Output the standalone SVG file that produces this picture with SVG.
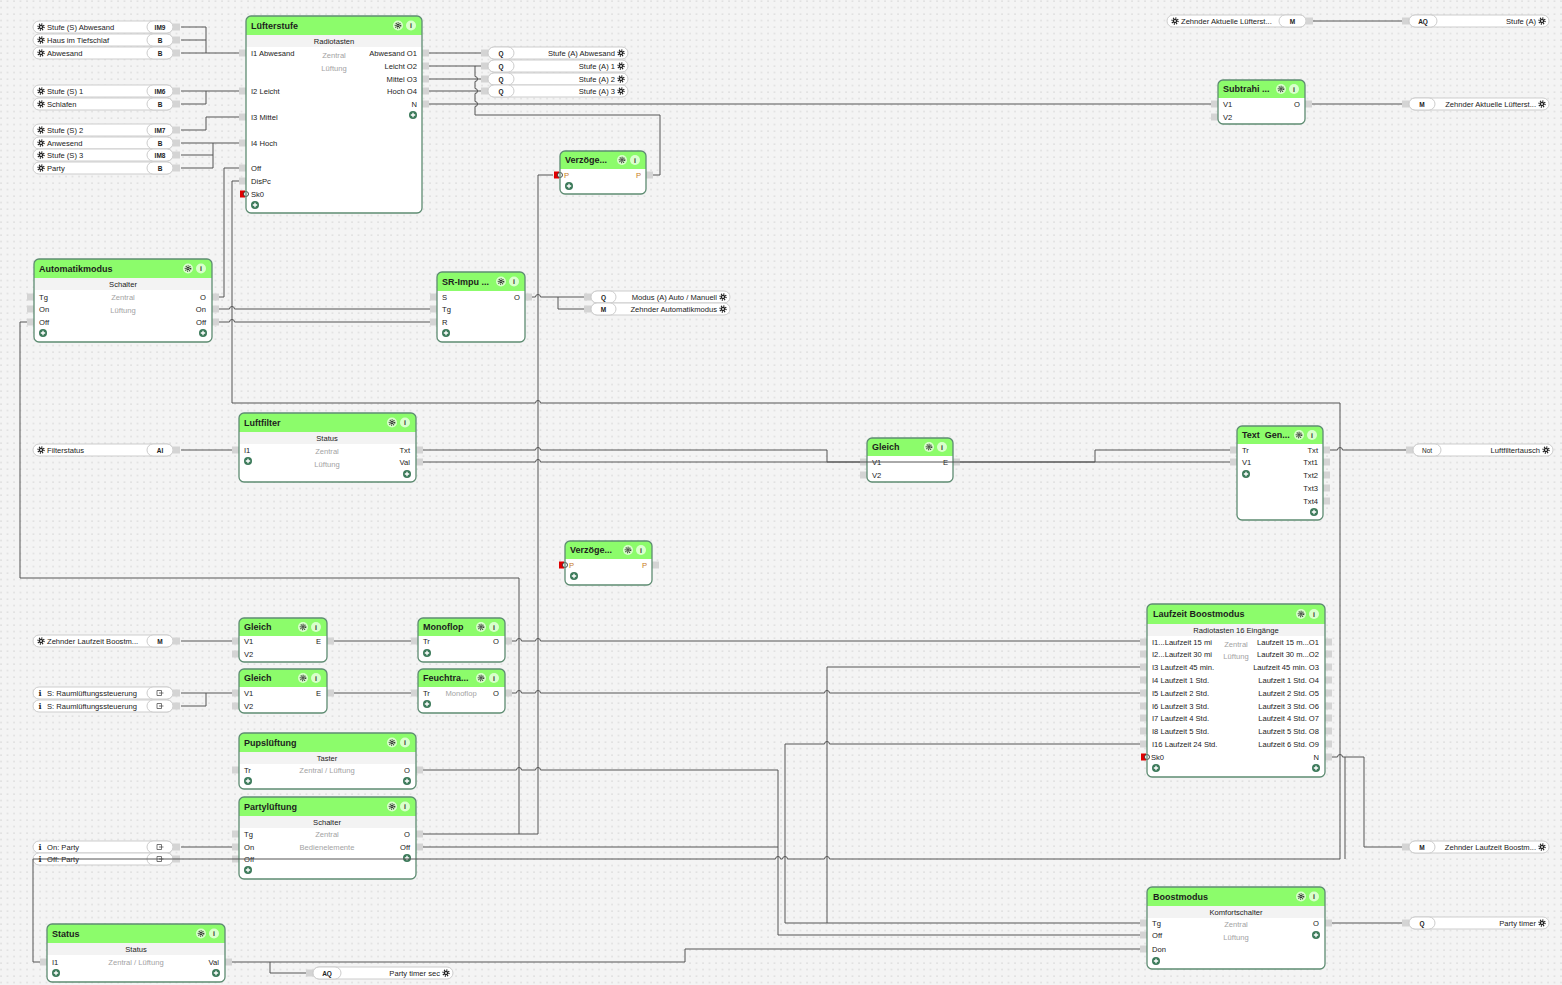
<svg xmlns="http://www.w3.org/2000/svg" width="1562" height="985" viewBox="0 0 1562 985">
<style>
.bg{fill:#fff}
.ol{fill:none;stroke:#5e8c72;stroke-width:1.3}
.hd{fill:#8cfc6b}
.sb{fill:#f3f3f3}
.st{fill:#d4d4d4}
.pl{fill:#fff;stroke:#cdcdcd;stroke-width:1}
.w{fill:none;stroke:#555;stroke-width:1}
text{font-family:"Liberation Sans",Arial,sans-serif;font-size:7.6px;fill:#222}
.h{font-size:9px;font-weight:bold;fill:#1d1d1d}
.r{text-anchor:end}
.c{text-anchor:middle}
.g{fill:#a3a3a3}
.ty{font-size:6.5px;font-weight:bold;text-anchor:middle}
.ic{font-size:7px;font-weight:bold;text-anchor:middle;fill:#333}
.o{fill:#c77a1c}
.inf{font-family:"DejaVu Serif",serif;font-weight:bold;font-size:8px;text-anchor:middle}
</style>
<defs>
<pattern id="dots" width="6.5" height="6.5" patternUnits="userSpaceOnUse"><circle cx="1" cy="1" r="0.6" fill="#b9b9b9"/></pattern>
<rect id="s" class="st" x="-7" y="-3.5" width="7" height="7"/>
<g id="ig"><circle r="5" fill="#d9ffcc"/><circle r="2.7" fill="none" stroke="#333" stroke-width="1.3" stroke-dasharray="1 1"/><circle r="1.7" fill="#333"/><circle r="0.6" fill="#d9ffcc"/></g>
<g id="ii"><circle r="5" fill="#d9ffcc"/><text y="2.6" class="ic">i</text></g>
<g id="pl"><circle r="4" fill="#3c7a5a"/><path d="M-2.2,0H2.2M0,-2.2V2.2" stroke="#fff" stroke-width="1.3"/></g>
<g id="gr"><circle r="3" fill="none" stroke="#222" stroke-width="1.4" stroke-dasharray="1.1 1.25"/><circle r="2.3" fill="#222"/><circle r="0.9" fill="#fff"/></g>
<g id="sk"><rect x="-6" y="-3.5" width="5" height="7" fill="#e00000"/><circle r="2.5" fill="#fff" stroke="#222" stroke-width="0.8"/></g>
<path id="gl" d="M-3,-2.5H1.5V2.5H-3Z M-1,0H3.5" fill="none" stroke="#555" stroke-width="0.8"/>
</defs>
<rect width="1562" height="985" fill="#f4f4f4"/>
<rect width="1562" height="985" fill="url(#dots)"/>

<!-- input pills (left type) -->
<g id="in-stufe-s-abwesand" transform="translate(33,21)"><rect class="pl" width="140" height="12" rx="6"/><rect class="pl" x="114" width="26" height="12" rx="6"/><use href="#gr" x="8" y="6"/><text x="14" y="8.7">Stufe (S) Abwesand</text><text class="ty" x="127" y="8.5">IM9</text><use href="#s" x="147" y="6"/></g>
<g id="in-haus-tiefschlaf" transform="translate(33,34)"><rect class="pl" width="140" height="12" rx="6"/><rect class="pl" x="114" width="26" height="12" rx="6"/><use href="#gr" x="8" y="6"/><text x="14" y="8.7">Haus im Tiefschlaf</text><text class="ty" x="127" y="8.5">B</text><use href="#s" x="147" y="6"/></g>
<g id="in-abwesand" transform="translate(33,47)"><rect class="pl" width="140" height="12" rx="6"/><rect class="pl" x="114" width="26" height="12" rx="6"/><use href="#gr" x="8" y="6"/><text x="14" y="8.7">Abwesand</text><text class="ty" x="127" y="8.5">B</text><use href="#s" x="147" y="6"/></g>
<g id="in-stufe-s-1" transform="translate(33,85)"><rect class="pl" width="140" height="12" rx="6"/><rect class="pl" x="114" width="26" height="12" rx="6"/><use href="#gr" x="8" y="6"/><text x="14" y="8.7">Stufe (S) 1</text><text class="ty" x="127" y="8.5">IM6</text><use href="#s" x="147" y="6"/></g>
<g id="in-schlafen" transform="translate(33,98)"><rect class="pl" width="140" height="12" rx="6"/><rect class="pl" x="114" width="26" height="12" rx="6"/><use href="#gr" x="8" y="6"/><text x="14" y="8.7">Schlafen</text><text class="ty" x="127" y="8.5">B</text><use href="#s" x="147" y="6"/></g>
<g id="in-stufe-s-2" transform="translate(33,124)"><rect class="pl" width="140" height="12" rx="6"/><rect class="pl" x="114" width="26" height="12" rx="6"/><use href="#gr" x="8" y="6"/><text x="14" y="8.7">Stufe (S) 2</text><text class="ty" x="127" y="8.5">IM7</text><use href="#s" x="147" y="6"/></g>
<g id="in-anwesend" transform="translate(33,137)"><rect class="pl" width="140" height="12" rx="6"/><rect class="pl" x="114" width="26" height="12" rx="6"/><use href="#gr" x="8" y="6"/><text x="14" y="8.7">Anwesend</text><text class="ty" x="127" y="8.5">B</text><use href="#s" x="147" y="6"/></g>
<g id="in-stufe-s-3" transform="translate(33,149)"><rect class="pl" width="140" height="12" rx="6"/><rect class="pl" x="114" width="26" height="12" rx="6"/><use href="#gr" x="8" y="6"/><text x="14" y="8.7">Stufe (S) 3</text><text class="ty" x="127" y="8.5">IM8</text><use href="#s" x="147" y="6"/></g>
<g id="in-party" transform="translate(33,162)"><rect class="pl" width="140" height="12" rx="6"/><rect class="pl" x="114" width="26" height="12" rx="6"/><use href="#gr" x="8" y="6"/><text x="14" y="8.7">Party</text><text class="ty" x="127" y="8.5">B</text><use href="#s" x="147" y="6"/></g>
<g id="in-filterstatus" transform="translate(33,444)"><rect class="pl" width="140" height="12" rx="6"/><rect class="pl" x="114" width="26" height="12" rx="6"/><use href="#gr" x="8" y="6"/><text x="14" y="8.7">Filterstatus</text><text class="ty" x="127" y="8.5">AI</text><use href="#s" x="147" y="6"/></g>
<g id="in-zehnder-laufzeit" transform="translate(33,635)"><rect class="pl" width="140" height="12" rx="6"/><rect class="pl" x="114" width="26" height="12" rx="6"/><use href="#gr" x="8" y="6"/><text x="14" y="8.7">Zehnder Laufzeit Boostm...</text><text class="ty" x="127" y="8.5">M</text><use href="#s" x="147" y="6"/></g>
<g id="in-raum-1" transform="translate(33,687)"><rect class="pl" width="140" height="12" rx="6"/><rect class="pl" x="114" width="26" height="12" rx="6"/><text class="inf" x="7" y="9">i</text><text x="14" y="8.7">S: Raumlüftungssteuerung</text><use href="#gl" x="127" y="6"/><use href="#s" x="147" y="6"/></g>
<g id="in-raum-2" transform="translate(33,700)"><rect class="pl" width="140" height="12" rx="6"/><rect class="pl" x="114" width="26" height="12" rx="6"/><text class="inf" x="7" y="9">i</text><text x="14" y="8.7">S: Raumlüftungssteuerung</text><use href="#gl" x="127" y="6"/><use href="#s" x="147" y="6"/></g>
<g id="in-on-party" transform="translate(33,841)"><rect class="pl" width="140" height="12" rx="6"/><rect class="pl" x="114" width="26" height="12" rx="6"/><text class="inf" x="7" y="9">i</text><text x="14" y="8.7">On: Party</text><use href="#gl" x="127" y="6"/><use href="#s" x="147" y="6"/></g>
<g id="in-off-party" transform="translate(33,853)"><rect class="pl" width="140" height="12" rx="6"/><rect class="pl" x="114" width="26" height="12" rx="6"/><text class="inf" x="7" y="9">i</text><text x="14" y="8.7">Off: Party</text><use href="#gl" x="127" y="6"/><use href="#s" x="147" y="6"/></g>
<g id="in-zehnder-aktuelle" transform="translate(1167,15)"><rect class="pl" width="139" height="12" rx="6"/><rect class="pl" x="112" width="27" height="12" rx="6"/><use href="#gr" x="8" y="6"/><text x="14" y="8.7">Zehnder Aktuelle Lüfterst...</text><text class="ty" x="125.5" y="8.5">M</text><use href="#s" x="146" y="6"/></g>

<!-- output pills (right type) -->
<g id="out-stufe-a-abwesand" transform="translate(488,47)"><use href="#s" x="0" y="6"/><rect class="pl" width="140" height="12" rx="6"/><rect class="pl" width="26" height="12" rx="6"/><text class="ty" x="13" y="8.5">Q</text><text class="r" x="127" y="8.7">Stufe (A) Abwesand</text><use href="#gr" x="133" y="6"/></g>
<g id="out-stufe-a-1" transform="translate(488,60)"><use href="#s" x="0" y="6"/><rect class="pl" width="140" height="12" rx="6"/><rect class="pl" width="26" height="12" rx="6"/><text class="ty" x="13" y="8.5">Q</text><text class="r" x="127" y="8.7">Stufe (A) 1</text><use href="#gr" x="133" y="6"/></g>
<g id="out-stufe-a-2" transform="translate(488,73)"><use href="#s" x="0" y="6"/><rect class="pl" width="140" height="12" rx="6"/><rect class="pl" width="26" height="12" rx="6"/><text class="ty" x="13" y="8.5">Q</text><text class="r" x="127" y="8.7">Stufe (A) 2</text><use href="#gr" x="133" y="6"/></g>
<g id="out-stufe-a-3" transform="translate(488,85)"><use href="#s" x="0" y="6"/><rect class="pl" width="140" height="12" rx="6"/><rect class="pl" width="26" height="12" rx="6"/><text class="ty" x="13" y="8.5">Q</text><text class="r" x="127" y="8.7">Stufe (A) 3</text><use href="#gr" x="133" y="6"/></g>
<g id="out-modus" transform="translate(591,291)"><use href="#s" x="0" y="6"/><rect class="pl" width="139" height="12" rx="6"/><rect class="pl" width="25" height="12" rx="6"/><text class="ty" x="12.5" y="8.5">Q</text><text class="r" x="126" y="8.7">Modus (A) Auto / Manuell</text><use href="#gr" x="132" y="6"/></g>
<g id="out-zehnder-automatik" transform="translate(591,303)"><use href="#s" x="0" y="6"/><rect class="pl" width="139" height="12" rx="6"/><rect class="pl" width="25" height="12" rx="6"/><text class="ty" x="12.5" y="8.5">M</text><text class="r" x="126" y="8.7">Zehnder Automatikmodus</text><use href="#gr" x="132" y="6"/></g>
<g id="out-stufe-a" transform="translate(1409,15)"><use href="#s" x="0" y="6"/><rect class="pl" width="140" height="12" rx="6"/><rect class="pl" width="28" height="12" rx="6"/><text class="ty" x="14" y="8.5">AQ</text><text class="r" x="127" y="8.7">Stufe (A)</text><use href="#gr" x="133" y="6"/></g>
<g id="out-zehnder-aktuelle" transform="translate(1409,98)"><use href="#s" x="0" y="6"/><rect class="pl" width="140" height="12" rx="6"/><rect class="pl" width="26" height="12" rx="6"/><text class="ty" x="13" y="8.5">M</text><text class="r" x="127" y="8.7">Zehnder Aktuelle Lüfterst...</text><use href="#gr" x="133" y="6"/></g>
<g id="out-luftfiltertausch" transform="translate(1413,444)"><use href="#s" x="0" y="6"/><rect class="pl" width="140" height="12" rx="6"/><rect class="pl" width="28" height="12" rx="6"/><text class="ty" x="14" y="8.5" style="font-weight:normal">Not</text><text class="r" x="127" y="8.7">Luftfiltertausch</text><use href="#gr" x="133" y="6"/></g>
<g id="out-zehnder-laufzeit" transform="translate(1409,841)"><use href="#s" x="0" y="6"/><rect class="pl" width="140" height="12" rx="6"/><rect class="pl" width="26" height="12" rx="6"/><text class="ty" x="13" y="8.5">M</text><text class="r" x="127" y="8.7">Zehnder Laufzeit Boostm...</text><use href="#gr" x="133" y="6"/></g>
<g id="out-party-timer" transform="translate(1409,917)"><use href="#s" x="0" y="6"/><rect class="pl" width="140" height="12" rx="6"/><rect class="pl" width="26" height="12" rx="6"/><text class="ty" x="13" y="8.5">Q</text><text class="r" x="127" y="8.7">Party timer</text><use href="#gr" x="133" y="6"/></g>
<g id="out-party-timer-sec" transform="translate(313,967)"><use href="#s" x="0" y="6"/><rect class="pl" width="140" height="12" rx="6"/><rect class="pl" width="28" height="12" rx="6"/><text class="ty" x="14" y="8.5">AQ</text><text class="r" x="127" y="8.7">Party timer sec</text><use href="#gr" x="133" y="6"/></g>

<!-- Lüfterstufe -->
<g id="n-luefterstufe" transform="translate(246,16)">
<rect class="bg" width="176" height="197" rx="5"/>
<path class="hd" d="M0,19V5A5,5 0 0 1 5,0H171A5,5 0 0 1 176,5V19Z"/>
<rect class="sb" y="19" width="176" height="12"/>
<text class="h" x="5" y="12.5">Lüfterstufe</text>
<use href="#ig" x="152" y="9.5"/><use href="#ii" x="165" y="9.5"/>
<text class="c" x="88" y="28">Radiotasten</text>
<text class="g c" x="88" y="42">Zentral</text><text class="g c" x="88" y="55">Lüftung</text>
<use href="#s" y="37"/><use href="#s" y="75"/><use href="#s" y="101"/><use href="#s" y="127"/><use href="#s" y="152"/><use href="#s" y="165"/><use href="#sk" y="178"/>
<text x="5" y="39.7">I1 Abwesand</text><text x="5" y="77.7">I2 Leicht</text><text x="5" y="103.7">I3 Mittel</text><text x="5" y="129.7">I4 Hoch</text><text x="5" y="154.7">Off</text><text x="5" y="167.7">DisPc</text><text x="5" y="180.7">Sk0</text>
<use href="#pl" x="9" y="189"/>
<use href="#s" x="183" y="37"/><use href="#s" x="183" y="50"/><use href="#s" x="183" y="63"/><use href="#s" x="183" y="75"/><use href="#s" x="183" y="88"/>
<text class="r" x="171" y="39.7">Abwesand O1</text><text class="r" x="171" y="52.7">Leicht O2</text><text class="r" x="171" y="65.7">Mittel O3</text><text class="r" x="171" y="77.7">Hoch O4</text><text class="r" x="171" y="90.7">N</text>
<use href="#pl" x="167" y="99"/>
<rect class="ol" width="176" height="197" rx="5"/>
</g>

<!-- Automatikmodus -->
<g id="n-automatikmodus" transform="translate(34,259)">
<rect class="bg" width="178" height="83" rx="5"/>
<path class="hd" d="M0,19V5A5,5 0 0 1 5,0H173A5,5 0 0 1 178,5V19Z"/>
<rect class="sb" y="19" width="178" height="12"/>
<text class="h" x="5" y="12.5">Automatikmodus</text>
<use href="#ig" x="154" y="9.5"/><use href="#ii" x="167" y="9.5"/>
<text class="c" x="89" y="28">Schalter</text>
<text class="g c" x="89" y="41">Zentral</text><text class="g c" x="89" y="54">Lüftung</text>
<use href="#s" y="38"/><use href="#s" y="50"/><use href="#s" y="63"/>
<text x="5" y="40.7">Tg</text><text x="5" y="52.7">On</text><text x="5" y="65.7">Off</text>
<use href="#s" x="185" y="38"/><use href="#s" x="185" y="50"/><use href="#s" x="185" y="63"/>
<text class="r" x="172" y="40.7">O</text><text class="r" x="172" y="52.7">On</text><text class="r" x="172" y="65.7">Off</text>
<use href="#pl" x="9" y="74"/><use href="#pl" x="169" y="74"/>
<rect class="ol" width="178" height="83" rx="5"/>
</g>

<!-- SR-Impuls -->
<g id="n-sr-impuls" transform="translate(437,272)">
<rect class="bg" width="88" height="70" rx="5"/>
<path class="hd" d="M0,19V5A5,5 0 0 1 5,0H83A5,5 0 0 1 88,5V19Z"/>
<text class="h" x="5" y="12.5">SR-Impu ...</text>
<use href="#ig" x="64" y="9.5"/><use href="#ii" x="77" y="9.5"/>
<use href="#s" y="25"/><use href="#s" y="37"/><use href="#s" y="50"/>
<text x="5" y="27.7">S</text><text x="5" y="39.7">Tg</text><text x="5" y="52.7">R</text>
<use href="#s" x="95" y="25"/><text class="r" x="83" y="27.7">O</text>
<use href="#pl" x="9" y="61"/>
<rect class="ol" width="88" height="70" rx="5"/>
</g>

<!-- Verzögerung 1 -->
<g id="n-verzoegerung-1" transform="translate(560,151)">
<rect class="bg" width="86" height="43" rx="5"/>
<path class="hd" d="M0,18V5A5,5 0 0 1 5,0H81A5,5 0 0 1 86,5V18Z"/>
<text class="h" x="5" y="12">Verzöge...</text>
<use href="#ig" x="62" y="9"/><use href="#ii" x="75" y="9"/>
<use href="#sk" y="24"/><text class="o" x="4" y="26.7">P</text>
<use href="#s" x="93" y="24"/><text class="o r" x="81" y="26.7">P</text>
<use href="#pl" x="9" y="35"/>
<rect class="ol" width="86" height="43" rx="5"/>
</g>

<!-- Subtrahieren -->
<g id="n-subtrahieren" transform="translate(1218,80)">
<rect class="bg" width="87" height="44" rx="5"/>
<path class="hd" d="M0,18V5A5,5 0 0 1 5,0H82A5,5 0 0 1 87,5V18Z"/>
<text class="h" x="5" y="12">Subtrahi ...</text>
<use href="#ig" x="63" y="9"/><use href="#ii" x="76" y="9"/>
<use href="#s" y="24"/><use href="#s" y="37"/>
<text x="5" y="26.7">V1</text><text x="5" y="39.7">V2</text>
<use href="#s" x="94" y="24"/><text class="r" x="82" y="26.7">O</text>
<rect class="ol" width="87" height="44" rx="5"/>
</g>

<!-- Luftfilter -->
<g id="n-luftfilter" transform="translate(239,413)">
<rect class="bg" width="177" height="69" rx="5"/>
<path class="hd" d="M0,19V5A5,5 0 0 1 5,0H172A5,5 0 0 1 177,5V19Z"/>
<rect class="sb" y="19" width="177" height="12"/>
<text class="h" x="5" y="12.5">Luftfilter</text>
<use href="#ig" x="153" y="9.5"/><use href="#ii" x="166" y="9.5"/>
<text class="c" x="88" y="28">Status</text>
<text class="g c" x="88" y="41">Zentral</text><text class="g c" x="88" y="53.5">Lüftung</text>
<use href="#s" y="37"/><text x="5" y="39.7">I1</text><use href="#pl" x="9" y="48"/>
<use href="#s" x="184" y="37"/><use href="#s" x="184" y="49"/>
<text class="r" x="171" y="39.7">Txt</text><text class="r" x="171" y="51.7">Val</text>
<use href="#pl" x="168" y="61"/>
<rect class="ol" width="177" height="69" rx="5"/>
</g>

<!-- Gleich (Luftfilter) -->
<g id="n-gleich-filter" transform="translate(867,438)">
<rect class="bg" width="86" height="44" rx="5"/>
<path class="hd" d="M0,18V5A5,5 0 0 1 5,0H81A5,5 0 0 1 86,5V18Z"/>
<text class="h" x="5" y="12">Gleich</text>
<use href="#ig" x="62" y="9"/><use href="#ii" x="75" y="9"/>
<use href="#s" y="24"/><use href="#s" y="37"/>
<text x="5" y="26.7">V1</text><text x="5" y="39.7">V2</text>
<use href="#s" x="93" y="24"/><text class="r" x="81" y="26.7">E</text>
<rect class="ol" width="86" height="44" rx="5"/>
</g>

<!-- Text Generator -->
<g id="n-text-gen" transform="translate(1237,426)">
<rect class="bg" width="86" height="94" rx="5"/>
<path class="hd" d="M0,18V5A5,5 0 0 1 5,0H81A5,5 0 0 1 86,5V18Z"/>
<text class="h" x="5" y="12" xml:space="preserve">Text  Gen...</text>
<use href="#ig" x="62" y="9"/><use href="#ii" x="75" y="9"/>
<use href="#s" y="24"/><use href="#s" y="36"/>
<text x="5" y="26.7">Tr</text><text x="5" y="38.7">V1</text><use href="#pl" x="9" y="48"/>
<use href="#s" x="93" y="24"/><use href="#s" x="93" y="36"/><use href="#s" x="93" y="49"/><use href="#s" x="93" y="62"/><use href="#s" x="93" y="75"/>
<text class="r" x="81" y="26.7">Txt</text><text class="r" x="81" y="38.7">Txt1</text><text class="r" x="81" y="51.7">Txt2</text><text class="r" x="81" y="64.7">Txt3</text><text class="r" x="81" y="77.7">Txt4</text>
<use href="#pl" x="77" y="86"/>
<rect class="ol" width="86" height="94" rx="5"/>
</g>

<!-- Verzögerung 2 -->
<g id="n-verzoegerung-2" transform="translate(565,541)">
<rect class="bg" width="87" height="44" rx="5"/>
<path class="hd" d="M0,18V5A5,5 0 0 1 5,0H82A5,5 0 0 1 87,5V18Z"/>
<text class="h" x="5" y="12">Verzöge...</text>
<use href="#ig" x="63" y="9"/><use href="#ii" x="76" y="9"/>
<use href="#sk" y="24"/><text class="o" x="4" y="26.7">P</text>
<use href="#s" x="94" y="24"/><text class="o r" x="82" y="26.7">P</text>
<use href="#pl" x="9" y="35"/>
<rect class="ol" width="87" height="44" rx="5"/>
</g>

<!-- Gleich 1 -->
<g id="n-gleich-1" transform="translate(239,618)">
<rect class="bg" width="88" height="44" rx="5"/>
<path class="hd" d="M0,18V5A5,5 0 0 1 5,0H83A5,5 0 0 1 88,5V18Z"/>
<text class="h" x="5" y="12">Gleich</text>
<use href="#ig" x="64" y="9"/><use href="#ii" x="77" y="9"/>
<use href="#s" y="23"/><use href="#s" y="36"/>
<text x="5" y="25.7">V1</text><text x="5" y="38.7">V2</text>
<use href="#s" x="95" y="23"/><text class="r" x="82" y="25.7">E</text>
<rect class="ol" width="88" height="44" rx="5"/>
</g>

<!-- Gleich 2 -->
<g id="n-gleich-2" transform="translate(239,669)">
<rect class="bg" width="88" height="44" rx="5"/>
<path class="hd" d="M0,18V5A5,5 0 0 1 5,0H83A5,5 0 0 1 88,5V18Z"/>
<text class="h" x="5" y="12">Gleich</text>
<use href="#ig" x="64" y="9"/><use href="#ii" x="77" y="9"/>
<use href="#s" y="24"/><use href="#s" y="37"/>
<text x="5" y="26.7">V1</text><text x="5" y="39.7">V2</text>
<use href="#s" x="95" y="24"/><text class="r" x="82" y="26.7">E</text>
<rect class="ol" width="88" height="44" rx="5"/>
</g>

<!-- Monoflop -->
<g id="n-monoflop" transform="translate(418,618)">
<rect class="bg" width="87" height="44" rx="5"/>
<path class="hd" d="M0,18V5A5,5 0 0 1 5,0H82A5,5 0 0 1 87,5V18Z"/>
<text class="h" x="5" y="12">Monoflop</text>
<use href="#ig" x="63" y="9"/><use href="#ii" x="76" y="9"/>
<use href="#s" y="23"/><text x="5" y="25.7">Tr</text><use href="#pl" x="9" y="35"/>
<use href="#s" x="94" y="23"/><text class="r" x="81" y="25.7">O</text>
<rect class="ol" width="87" height="44" rx="5"/>
</g>

<!-- Feuchtraum -->
<g id="n-feuchtraum" transform="translate(418,669)">
<rect class="bg" width="87" height="44" rx="5"/>
<path class="hd" d="M0,18V5A5,5 0 0 1 5,0H82A5,5 0 0 1 87,5V18Z"/>
<text class="h" x="5" y="12">Feuchtra...</text>
<use href="#ig" x="63" y="9"/><use href="#ii" x="76" y="9"/>
<use href="#s" y="24"/><text x="5" y="26.7">Tr</text><use href="#pl" x="9" y="35"/>
<text class="g c" x="43" y="27">Monoflop</text>
<use href="#s" x="94" y="24"/><text class="r" x="81" y="26.7">O</text>
<rect class="ol" width="87" height="44" rx="5"/>
</g>

<!-- Laufzeit Boostmodus -->
<g id="n-laufzeit-boostmodus" transform="translate(1147,604)">
<rect class="bg" width="178" height="173" rx="5"/>
<path class="hd" d="M0,20V5A5,5 0 0 1 5,0H173A5,5 0 0 1 178,5V20Z"/>
<rect class="sb" y="20" width="178" height="12"/>
<text class="h" x="6" y="13">Laufzeit Boostmodus</text>
<use href="#ig" x="154" y="10"/><use href="#ii" x="167" y="10"/>
<text class="c" x="89" y="29">Radiotasten 16 Eingänge</text>
<text class="g c" x="89" y="43">Zentral</text><text class="g c" x="89" y="55">Lüftung</text>
<use href="#s" y="38"/><use href="#s" y="50"/><use href="#s" y="63"/><use href="#s" y="76"/><use href="#s" y="89"/><use href="#s" y="102"/><use href="#s" y="114"/><use href="#s" y="127"/><use href="#s" y="140"/><use href="#sk" y="153"/>
<text x="5" y="40.7">I1...Laufzeit 15 mi</text><text x="5" y="52.7">I2...Laufzeit 30 mi</text><text x="5" y="65.7">I3 Laufzeit 45 min.</text><text x="5" y="78.7">I4 Laufzeit 1 Std.</text><text x="5" y="91.7">I5 Laufzeit 2 Std.</text><text x="5" y="104.7">I6 Laufzeit 3 Std.</text><text x="5" y="116.7">I7 Laufzeit 4 Std.</text><text x="5" y="129.7">I8 Laufzeit 5 Std.</text><text x="5" y="142.7">I16 Laufzeit 24 Std.</text><text x="4" y="155.7">Sk0</text>
<use href="#pl" x="9" y="164"/>
<use href="#s" x="185" y="38"/><use href="#s" x="185" y="50"/><use href="#s" x="185" y="63"/><use href="#s" x="185" y="76"/><use href="#s" x="185" y="89"/><use href="#s" x="185" y="102"/><use href="#s" x="185" y="114"/><use href="#s" x="185" y="127"/><use href="#s" x="185" y="140"/><use href="#s" x="185" y="153"/>
<text class="r" x="172" y="40.7">Laufzeit 15 m...O1</text><text class="r" x="172" y="52.7">Laufzeit 30 m...O2</text><text class="r" x="172" y="65.7">Laufzeit 45 min. O3</text><text class="r" x="172" y="78.7">Laufzeit 1 Std. O4</text><text class="r" x="172" y="91.7">Laufzeit 2 Std. O5</text><text class="r" x="172" y="104.7">Laufzeit 3 Std. O6</text><text class="r" x="172" y="116.7">Laufzeit 4 Std. O7</text><text class="r" x="172" y="129.7">Laufzeit 5 Std. O8</text><text class="r" x="172" y="142.7">Laufzeit 6 Std. O9</text><text class="r" x="172" y="155.7">N</text>
<use href="#pl" x="169" y="164"/>
<rect class="ol" width="178" height="173" rx="5"/>
</g>

<!-- Pupslüftung -->
<g id="n-pupslueftung" transform="translate(239,733)">
<rect class="bg" width="177" height="56" rx="5"/>
<path class="hd" d="M0,19V5A5,5 0 0 1 5,0H172A5,5 0 0 1 177,5V19Z"/>
<rect class="sb" y="19" width="177" height="12"/>
<text class="h" x="5" y="12.5">Pupslüftung</text>
<use href="#ig" x="153" y="9.5"/><use href="#ii" x="166" y="9.5"/>
<text class="c" x="88" y="28">Taster</text>
<text class="g c" x="88" y="40">Zentral / Lüftung</text>
<use href="#s" y="37"/><text x="5" y="39.7">Tr</text><use href="#pl" x="9" y="48"/>
<use href="#s" x="184" y="37"/><text class="r" x="171" y="39.7">O</text><use href="#pl" x="168" y="48"/>
<rect class="ol" width="177" height="56" rx="5"/>
</g>

<!-- Partylüftung -->
<g id="n-partylueftung" transform="translate(239,797)">
<rect class="bg" width="177" height="82" rx="5"/>
<path class="hd" d="M0,19V5A5,5 0 0 1 5,0H172A5,5 0 0 1 177,5V19Z"/>
<rect class="sb" y="19" width="177" height="12"/>
<text class="h" x="5" y="12.5">Partylüftung</text>
<use href="#ig" x="153" y="9.5"/><use href="#ii" x="166" y="9.5"/>
<text class="c" x="88" y="28">Schalter</text>
<text class="g c" x="88" y="40">Zentral</text><text class="g c" x="88" y="53">Bedienelemente</text>
<use href="#s" y="37"/><use href="#s" y="50"/><use href="#s" y="62"/>
<text x="5" y="39.7">Tg</text><text x="5" y="52.7">On</text><text x="5" y="64.7">Off</text>
<use href="#pl" x="9" y="73"/>
<use href="#s" x="184" y="37"/><use href="#s" x="184" y="50"/>
<text class="r" x="171" y="39.7">O</text><text class="r" x="171" y="52.7">Off</text>
<use href="#pl" x="168" y="61"/>
<rect class="ol" width="177" height="82" rx="5"/>
</g>

<!-- Status -->
<g id="n-status" transform="translate(47,924)">
<rect class="bg" width="178" height="58" rx="5"/>
<path class="hd" d="M0,19V5A5,5 0 0 1 5,0H173A5,5 0 0 1 178,5V19Z"/>
<rect class="sb" y="19" width="178" height="12"/>
<text class="h" x="5" y="12.5">Status</text>
<use href="#ig" x="154" y="9.5"/><use href="#ii" x="167" y="9.5"/>
<text class="c" x="89" y="28">Status</text>
<text class="g c" x="89" y="41">Zentral / Lüftung</text>
<use href="#s" y="38"/><text x="5" y="40.7">I1</text><use href="#pl" x="9" y="49"/>
<use href="#s" x="185" y="38"/><text class="r" x="172" y="40.7">Val</text><use href="#pl" x="169" y="49"/>
<rect class="ol" width="178" height="58" rx="5"/>
</g>

<!-- Boostmodus -->
<g id="n-boostmodus" transform="translate(1147,887)">
<rect class="bg" width="178" height="82" rx="5"/>
<path class="hd" d="M0,19V5A5,5 0 0 1 5,0H173A5,5 0 0 1 178,5V19Z"/>
<rect class="sb" y="19" width="178" height="12"/>
<text class="h" x="6" y="12.5">Boostmodus</text>
<use href="#ig" x="154" y="9.5"/><use href="#ii" x="167" y="9.5"/>
<text class="c" x="89" y="28">Komfortschalter</text>
<text class="g c" x="89" y="40">Zentral</text><text class="g c" x="89" y="53">Lüftung</text>
<use href="#s" y="36"/><use href="#s" y="48"/><use href="#s" y="62"/>
<text x="5" y="38.7">Tg</text><text x="5" y="50.7">Off</text><text x="5" y="64.7">Don</text>
<use href="#pl" x="9" y="74"/>
<use href="#s" x="185" y="36"/><text class="r" x="172" y="38.7">O</text><use href="#pl" x="169" y="48"/>
<rect class="ol" width="178" height="82" rx="5"/>
</g>

<!-- connectors -->
<g id="connectors" class="w">
<path d="M181,27H206V53"/>
<path d="M181,40H206"/>
<path d="M181,53H239"/>
<path d="M181,91H239"/>
<path d="M181,104H206V91"/>
<path d="M181,130H206V117H239"/>
<path d="M181,143H239"/>
<path d="M181,155H213"/>
<path d="M181,168H213V143"/>
<path d="M239,168H224V297H219"/>
<path d="M239,181H232V403H535.5a2.5,2.5 0 0 1 5,0H1340V859H829.5a2.5,2.5 0 0 0 -5,0H787.5a2.5,2.5 0 0 0 -5,0H780.5a2.5,2.5 0 0 0 -5,0H33V962H40"/>
<path d="M429,53H481"/>
<path d="M429,66H481"/>
<path d="M429,79H481"/>
<path d="M429,91H481"/>
<path d="M475,66V76.5a2.5,2.5 0 0 1 0,5V88.5a2.5,2.5 0 0 1 0,5V101.5a2.5,2.5 0 0 1 0,5V115H660V175H653"/>
<path d="M429,104H1211"/>
<path d="M1312,104H1402"/>
<path d="M1313,21H1402"/>
<path d="M553,175H538V834H423"/>
<path d="M519,834V578H20V322H27"/>
<path d="M219,309H229.5a2.5,2.5 0 0 1 5,0H430"/>
<path d="M219,322H229.5a2.5,2.5 0 0 1 5,0H430"/>
<path d="M532,297H535.5a2.5,2.5 0 0 1 5,0H584"/>
<path d="M558,297V309H584"/>
<path d="M181,450H232"/>
<path d="M423,450H535.5a2.5,2.5 0 0 1 5,0H827V462H860"/>
<path d="M423,462H535.5a2.5,2.5 0 0 1 5,0H1230"/>
<path d="M960,462H1095V450H1230"/>
<path d="M1330,450H1337.5a2.5,2.5 0 0 1 5,0H1406"/>
<path d="M181,641H232"/>
<path d="M181,693H232"/>
<path d="M181,706H206V693"/>
<path d="M334,641H411"/>
<path d="M334,693H411"/>
<path d="M512,641H516.5a2.5,2.5 0 0 1 5,0H535.5a2.5,2.5 0 0 1 5,0H1140"/>
<path d="M512,693H516.5a2.5,2.5 0 0 1 5,0H535.5a2.5,2.5 0 0 1 5,0H824.5a2.5,2.5 0 0 1 5,0H1140"/>
<path d="M1140,667H827V923"/>
<path d="M1140,744H829.5a2.5,2.5 0 0 0 -5,0H785V923H1140"/>
<path d="M423,770H516.5a2.5,2.5 0 0 1 5,0H535.5a2.5,2.5 0 0 1 5,0H778V935H1140"/>
<path d="M423,847H778"/>
<path d="M181,847H232"/>
<path d="M232,962H685V949H1140"/>
<path d="M270,962V973H306"/>
<path d="M1332,923H1402"/>
<path d="M1332,757H1337.5a2.5,2.5 0 0 1 5,0H1364V847H1402"/>
<path d="M1345,757V859"/>
</g>
</svg>
